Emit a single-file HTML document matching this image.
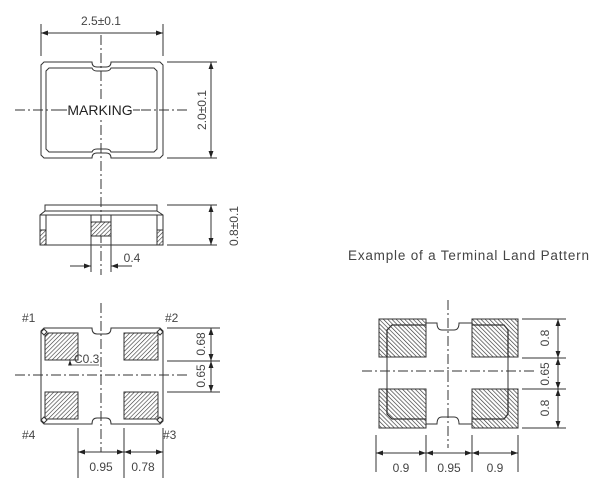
<!DOCTYPE html>
<html><head><meta charset="utf-8"><style>
html,body{margin:0;padding:0;background:#fff;}
svg{display:block;}
text{font-family:"Liberation Sans",sans-serif;fill:#444;}
</style></head><body>
<svg width="600" height="493" viewBox="0 0 600 493" xmlns="http://www.w3.org/2000/svg">
<defs>
<pattern id="h" width="3" height="3" patternUnits="userSpaceOnUse" patternTransform="rotate(45)">
<rect width="3" height="3" fill="#fff"/><line x1="0" y1="0" x2="0" y2="3" stroke="#333" stroke-width="1.2"/></pattern>
<pattern id="h2" width="3" height="3" patternUnits="userSpaceOnUse" patternTransform="rotate(-45)">
<rect width="3" height="3" fill="#fff"/><line x1="0" y1="0" x2="0" y2="3" stroke="#333" stroke-width="1.3"/></pattern>
<marker id="a" viewBox="0 0 10 10" refX="10" refY="5" markerWidth="7" markerHeight="7" orient="auto-start-reverse"><path d="M0,1.5 L10,5 L0,8.5z" fill="#222"/></marker>
</defs>
<g stroke="#333" stroke-width="1" fill="none">
<!-- top view -->
<path d="M44,62 H92 Q92,67 97,67 H106 Q111,67 111,62 H160 L163,65 V155 L160,158 H111 Q111,153 106,153 H97 Q92,153 92,158 H44 L41,155 V65 Z"/>
<path d="M49,68 H92 Q93,71 97,71 H106 Q110,71 111,68 H154 L157,71 V149 L154,152 H111 Q110,149 106,149 H97 Q93,149 92,152 H49 L46,149 V71 Z"/>
<line x1="101" y1="35" x2="101" y2="275" stroke-dasharray="10,3,2,3"/>
<line x1="15" y1="110" x2="188" y2="110" stroke-dasharray="10,3,2,3"/>
<line x1="41" y1="24" x2="41" y2="56"/><line x1="163" y1="24" x2="163" y2="56"/>
<line x1="41" y1="33" x2="163" y2="33" marker-start="url(#a)" marker-end="url(#a)"/>
<line x1="167" y1="62" x2="217" y2="62"/><line x1="167" y1="158" x2="217" y2="158"/>
<line x1="211" y1="62" x2="211" y2="158" marker-start="url(#a)" marker-end="url(#a)"/>
<!-- side view -->
<path d="M45,205 H157 V211 L163,215 V245 H40 V215 L45,211 Z"/>
<line x1="45" y1="211" x2="157" y2="211"/>
<line x1="40" y1="215" x2="163" y2="215"/>
<line x1="46" y1="215" x2="46" y2="245"/><line x1="157" y1="215" x2="157" y2="245"/>
<rect x="40" y="230" width="6" height="15" fill="url(#h)"/>
<rect x="157" y="230" width="6" height="15" fill="url(#h)"/>
<rect x="91" y="222" width="20" height="14" fill="url(#h)"/>
<line x1="91" y1="215" x2="91" y2="272"/><line x1="111" y1="215" x2="111" y2="272"/>
<line x1="70" y1="266" x2="91" y2="266" marker-end="url(#a)"/>
<line x1="132" y1="266" x2="111" y2="266" marker-end="url(#a)"/>
<line x1="167" y1="205" x2="217" y2="205"/><line x1="167" y1="245" x2="217" y2="245"/>
<line x1="211" y1="205" x2="211" y2="245" marker-start="url(#a)" marker-end="url(#a)"/>
<!-- bottom view -->
<path d="M44,328 H92 Q92,334 97,334 H106 Q111,334 111,328 H160 L163,331 V421 L160,424 H111 Q111,418 106,418 H97 Q92,418 92,424 H44 L41,421 V331 Z"/>
<path d="M48,333 H78 V360 H45 V336 Z" fill="url(#h)"/>
<rect x="124" y="333" width="34" height="27" fill="url(#h)"/>
<rect x="45" y="392" width="33" height="27" fill="url(#h)"/>
<rect x="124" y="392" width="34" height="27" fill="url(#h)"/>
<path d="M44,329 L47,332 L44,335 L41,332 Z M160,329 L163,332 L160,335 L157,332 Z M44,417 L47,420 L44,423 L41,420 Z M160,417 L163,420 L160,423 L157,420 Z" fill="#fff"/>
<line x1="101" y1="303" x2="101" y2="452" stroke-dasharray="10,3,2,3"/>
<line x1="15" y1="375" x2="188" y2="375" stroke-dasharray="10,3,2,3"/>
<path d="M70,365 H99" stroke-width="0.8"/>
<line x1="70" y1="365" x2="70" y2="360" stroke-width="0.8" marker-end="url(#a)"/>
<line x1="167" y1="328" x2="220" y2="328"/><line x1="167" y1="361" x2="220" y2="361"/><line x1="167" y1="392" x2="220" y2="392"/>
<line x1="211" y1="328" x2="211" y2="361" marker-start="url(#a)" marker-end="url(#a)"/>
<line x1="211" y1="361" x2="211" y2="392" marker-start="url(#a)" marker-end="url(#a)"/>
<line x1="78" y1="428" x2="78" y2="478"/><line x1="124" y1="428" x2="124" y2="478"/><line x1="163" y1="428" x2="163" y2="478"/>
<line x1="78" y1="452" x2="124" y2="452" marker-start="url(#a)" marker-end="url(#a)"/>
<line x1="124" y1="452" x2="163" y2="452" marker-start="url(#a)" marker-end="url(#a)"/>
<!-- land pattern -->
<rect x="379" y="319" width="47" height="38" fill="url(#h2)"/>
<rect x="472" y="319" width="46" height="38" fill="url(#h2)"/>
<rect x="379" y="389" width="47" height="39" fill="url(#h2)"/>
<rect x="472" y="389" width="46" height="39" fill="url(#h2)"/>
<path d="M426,323 H437 Q437,330 442,330 H454 Q459,330 459,323 H472"/>
<path d="M426,424 H437 Q437,417 442,417 H454 Q459,417 459,424 H472"/>
<path d="M387,357 V389 M508,357 V389"/>
<path d="M387,357 V330 L392,325 H426 M472,325 H504 L508,330 V357" stroke-width="1.3"/>
<path d="M387,389 V414 L392,419 H426 M472,419 H504 L508,414 V389" stroke-width="1.3"/>
<line x1="448" y1="300" x2="448" y2="448" stroke-dasharray="10,3,2,3"/>
<line x1="362" y1="371" x2="535" y2="371" stroke-dasharray="10,3,2,3"/>
<line x1="376" y1="435" x2="376" y2="472"/><line x1="426" y1="435" x2="426" y2="472"/><line x1="472" y1="435" x2="472" y2="472"/><line x1="518" y1="435" x2="518" y2="472"/>
<line x1="376" y1="453" x2="426" y2="453" marker-start="url(#a)" marker-end="url(#a)"/>
<line x1="426" y1="453" x2="472" y2="453" marker-start="url(#a)" marker-end="url(#a)"/>
<line x1="472" y1="453" x2="518" y2="453" marker-start="url(#a)" marker-end="url(#a)"/>
<line x1="522" y1="319" x2="566" y2="319"/><line x1="522" y1="358" x2="566" y2="358"/><line x1="522" y1="389" x2="566" y2="389"/><line x1="522" y1="428" x2="566" y2="428"/>
<line x1="558" y1="319" x2="558" y2="358" marker-start="url(#a)" marker-end="url(#a)"/>
<line x1="558" y1="358" x2="558" y2="389" marker-start="url(#a)" marker-end="url(#a)"/>
<line x1="558" y1="389" x2="558" y2="428" marker-start="url(#a)" marker-end="url(#a)"/>
</g>
<g font-size="12">
<text x="101" y="25" text-anchor="middle">2.5±0.1</text>
<rect x="66" y="102" width="68" height="16" fill="#fff"/>
<line x1="60" y1="110" x2="67" y2="110" stroke="#333"/>
<line x1="133" y1="110" x2="140" y2="110" stroke="#333"/>
<text x="100" y="115" text-anchor="middle" font-size="14" style="fill:#222">MARKING</text>
<text transform="translate(206,110) rotate(-90)" text-anchor="middle">2.0±0.1</text>
<text transform="translate(238,226) rotate(-90)" text-anchor="middle">0.8±0.1</text>
<text x="132" y="262" text-anchor="middle">0.4</text>
<text x="348" y="260" font-size="13.5" textLength="241">Example of a Terminal Land Pattern</text>
<text x="22" y="322">#1</text><text x="165" y="322">#2</text>
<text x="22" y="439">#4</text><text x="163" y="439">#3</text>
<text x="74" y="363" font-size="12">C0.3</text>
<text transform="translate(205,344) rotate(-90)" text-anchor="middle">0.68</text>
<text transform="translate(205,376) rotate(-90)" text-anchor="middle">0.65</text>
<text x="101" y="471" text-anchor="middle">0.95</text>
<text x="143" y="471" text-anchor="middle">0.78</text>
<text x="401" y="472" text-anchor="middle">0.9</text>
<text x="449" y="472" text-anchor="middle">0.95</text>
<text x="495" y="472" text-anchor="middle">0.9</text>
<text transform="translate(549,338) rotate(-90)" text-anchor="middle">0.8</text>
<text transform="translate(549,374) rotate(-90)" text-anchor="middle">0.65</text>
<text transform="translate(549,408) rotate(-90)" text-anchor="middle">0.8</text>
</g>
</svg>
</body></html>
